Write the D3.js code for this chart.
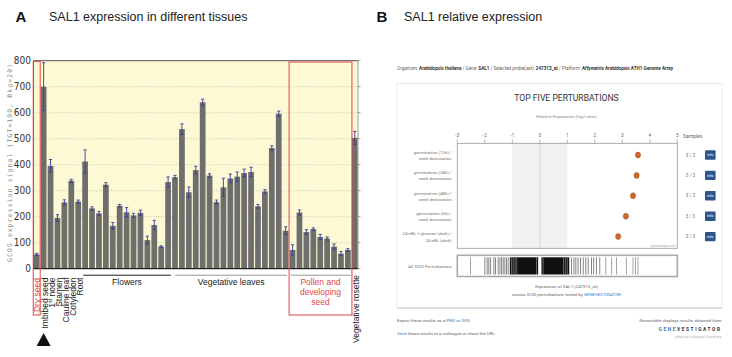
<!DOCTYPE html>
<html><head><meta charset="utf-8">
<script src="https://cdn.jsdelivr.net/npm/d3@7"></script>
<style>
html,body{margin:0;padding:0;background:#fff;}
svg{display:block;font-family:"Liberation Sans",Arial,sans-serif;}
</style></head>
<body>
<script>
// ---------- Panel A data ----------
const categories = ["Dry seed","Imbibed seed","1st node","Stamen","Cauline leaf","Cotyledon","Root",
  "Flower 1","Flower 2","Flower 3","Flower 4","Flower 5","Flower 6","Flower 7","Flower 8","Flower 9","Flower 10","Flower 11","Flower 12","Flower 13",
  "Leaf 1","Leaf 2","Leaf 3","Leaf 4","Leaf 5","Leaf 6","Leaf 7","Leaf 8","Leaf 9","Leaf 10","Leaf 11","Leaf 12","Leaf 13","Leaf 14","Leaf 15","Leaf 16","Leaf 17",
  "Pollen/seed 1","Pollen/seed 2","Pollen/seed 3","Pollen/seed 4","Pollen/seed 5","Pollen/seed 6","Pollen/seed 7","Pollen/seed 8","Pollen/seed 9",
  "Vegetative rosette"];
const signal = [55,700,395,195,255,338,258,412,232,213,323,165,242,217,205,215,110,168,85,333,352,537,294,379,640,358,256,313,347,354,368,372,240,297,464,596,146,72,216,141,152,122,116,85,58,72,503];
const signalErr = [4,92,25,13,10,6,6,45,6,7,8,13,5,18,8,10,15,18,3,20,7,20,20,15,12,7,8,35,17,18,15,18,7,7,9,10,15,20,10,9,5,10,6,10,8,5,25];
const yTicks = [0,100,200,300,400,500,600,700,800];
const rotatedLabels = ["Imbibed seed","1st node","Stamen","Cauline leaf","Cotyledon","Root"]; // bars 2..7
const groups = [
  {name:"Flowers", first:"Flower 1", last:"Flower 13", color:"#222"},
  {name:"Vegetative leaves", first:"Leaf 1", last:"Leaf 17", color:"#999"},
  {name:"Pollen and developing seed", first:"Pollen/seed 1", last:"Pollen/seed 9", color:"#999"}
];
const pollenLines = ["Pollen and","developing","seed"];

// ---------- Panel B data ----------
const perturbations = [
  ["germination (12h) /","seed desiccation"],
  ["germination (24h) /","seed desiccation"],
  ["germination (48h) /","seed desiccation"],
  ["germination (6h) /","seed desiccation"],
  ["24-eBL + glucose (dark) /","24-eBL (dark)"]
];
const log2Ratio = [3.57,3.52,3.39,3.13,2.85];
const samples = ["3 / 3","3 / 3","3 / 3","3 / 3","3 / 3"];
const xTicksB = [-3,-2,-1,0,1,2,3,4,5];
const barcodeLines = [-2.52,-2.0,-1.915,-1.855,-1.79,-1.67,-1.61,-1.515,-1.45,-1.39,-1.33,-1.27,-1.21,-1.15,
  1.15,1.24,1.31,1.39,1.48,1.58,1.67,1.76,1.88,1.96,2.06,2.18,2.4,2.61,2.79,3.15,3.39,3.48,3.57];
const barcodeDense = [[-1.09,-0.06],[0.06,1.07]];
const barcodeGaps = [-1.03,-0.97,-0.9,-0.84,-0.12,0.12,0.86,0.93,1.0];

const W=732,H=357;
const svg=d3.select("body").append("svg").attr("width",W).attr("height",H);

// ---------- Titles ----------
svg.append("text").attr("x",15.5).attr("y",22).attr("font-size",15).attr("font-weight","bold").attr("fill","#111").text("A");
svg.append("text").attr("x",49).attr("y",21).attr("font-size",12.5).attr("fill","#222").text("SAL1 expression in different tissues");
svg.append("text").attr("x",376.5).attr("y",22).attr("font-size",15).attr("font-weight","bold").attr("fill","#111").text("B");
svg.append("text").attr("x",404).attr("y",21).attr("font-size",12.5).attr("fill","#222").text("SAL1 relative expression");

// ---------- Panel A ----------
const pl=33.5, pr=358, pt=60.7, pb=268.7;
const x=d3.scaleBand().domain(categories).range([pl,pr]).paddingInner(0.17).paddingOuter(0.05);
const y=d3.scaleLinear().domain([0,800]).range([pb,pt]);
const A=svg.append("g");
A.append("rect").attr("x",pl).attr("y",pt).attr("width",pr-pl).attr("height",pb-pt).attr("fill","#fcf9d4");
A.append("g").selectAll("line").data(yTicks.slice(1,-1)).join("line")
  .attr("x1",pl).attr("x2",pr).attr("y1",d=>y(d)).attr("y2",d=>y(d))
  .attr("stroke","#b9b7a0").attr("stroke-width",0.7).attr("stroke-dasharray","1,1.5");
A.append("g").selectAll("rect").data(signal).join("rect")
  .attr("x",(d,i)=>x(categories[i])).attr("width",x.bandwidth())
  .attr("y",d=>y(d)).attr("height",d=>pb-y(d)).attr("fill","#6e6e6c");
const eb=A.append("g").attr("stroke","#3b3b98").attr("stroke-width",0.9);
signal.forEach((v,i)=>{
  const cx=x(categories[i])+x.bandwidth()/2, e=signalErr[i];
  const top=Math.min(800,v+e);
  eb.append("line").attr("x1",cx).attr("x2",cx).attr("y1",y(top)).attr("y2",y(v-e));
  eb.append("line").attr("x1",cx-1.6).attr("x2",cx+1.6).attr("y1",y(top)).attr("y2",y(top));
  eb.append("line").attr("x1",cx-1.6).attr("x2",cx+1.6).attr("y1",y(v-e)).attr("y2",y(v-e));
});
// frame
A.append("line").attr("x1",pl).attr("x2",pr).attr("y1",pt).attr("y2",pt).attr("stroke","#555").attr("stroke-width",1);
A.append("line").attr("x1",pr).attr("x2",pr).attr("y1",pt).attr("y2",pb).attr("stroke","#888").attr("stroke-width",0.8);
A.append("line").attr("x1",pl).attr("x2",pl).attr("y1",pt).attr("y2",pb).attr("stroke","#444").attr("stroke-width",1);
A.append("line").attr("x1",pl).attr("x2",pr).attr("y1",pb).attr("y2",pb).attr("stroke","#222").attr("stroke-width",1.2);
// right ticks
A.append("g").selectAll("line").data(yTicks).join("line")
  .attr("x1",pr).attr("x2",pr+2.5).attr("y1",d=>y(d)).attr("y2",d=>y(d)).attr("stroke","#777").attr("stroke-width",0.7);
// left tick labels
A.append("g").selectAll("text").data(yTicks).join("text")
  .attr("x",31).attr("y",d=>y(d)+3.5).attr("text-anchor","end")
  .attr("font-family","'Liberation Sans Narrow','DejaVu Sans Condensed',sans-serif")
  .attr("font-size",10).attr("fill","#333").text(d=>d);
// y title
A.append("text").attr("transform","translate(12.3,163) rotate(-90)").attr("text-anchor","middle")
  .attr("font-family","'DejaVu Sans Mono',monospace").attr("font-size",6.4).attr("fill","#888")
  .attr("textLength",198).attr("lengthAdjust","spacing")
  .text("GCOS expression signal (TGT=100, Bkg=20)");

// red box dry seed
const xd=x(categories[0]);
A.append("rect").attr("x",xd-0.6).attr("y",pt+0.6).attr("width",x.bandwidth()+1.2).attr("height",315-pt-0.6)
  .attr("fill","none").attr("stroke","#e0474c").attr("stroke-width",1);
A.append("text").attr("transform",`translate(${xd+x.bandwidth()/2+3.2},278) rotate(-90)`).attr("text-anchor","end")
  .attr("font-size",8.5).attr("fill","#e0474c").text("Dry seed");
// rotated labels
rotatedLabels.forEach((lab,k)=>{
  const c=x(categories[k+1])+x.bandwidth()/2+4.3;
  const t=A.append("text").attr("transform",`translate(${c},277.5) rotate(-90)`).attr("text-anchor","end")
    .attr("font-size",8.5).attr("fill","#222");
  if(lab==="1st node"){
    t.append("tspan").text("1");
    t.append("tspan").attr("font-size",5.5).attr("dy",-3).text("st");
    t.append("tspan").attr("dy",3).text(" node");
  } else t.text(lab);
});
{
  const last=categories[categories.length-1];
  A.append("text").attr("transform",`translate(${x(last)+x.bandwidth()/2+4.3},275) rotate(-90)`).attr("text-anchor","end")
    .attr("font-size",8.5).attr("fill","#222").text(last);
}
// group lines
groups.forEach((g,k)=>{
  const a=x(g.first)+(k===1?3:0.8), b=x(g.last)+x.bandwidth()+(k===1?-1.5:0);
  A.append("line").attr("x1",a).attr("x2",b).attr("y1",275.2).attr("y2",275.2).attr("stroke",g.color).attr("stroke-width",1);
  if(k<2) A.append("text").attr("x",(a+b)/2).attr("y",285).attr("text-anchor","middle").attr("font-size",8.5).attr("fill","#222").text(g.name);
});
// pollen box
{
  const a=x(groups[2].first)-0.6, b=x(groups[2].last)+x.bandwidth()+1.2;
  A.append("rect").attr("x",a).attr("y",62).attr("width",b-a).attr("height",315-62).attr("fill","none").attr("stroke","#e0474c").attr("stroke-width",1);
  A.append("g").selectAll("text").data(pollenLines).join("text")
    .attr("x",(a+b)/2).attr("y",(d,i)=>284.5+i*10).attr("text-anchor","middle").attr("font-size",8.5).attr("fill","#e0474c").text(d=>d);
}
// triangle
{
  const c=x(categories[1])+x.bandwidth()/2;
  A.append("path").attr("d",`M${c-7},346 L${c},333 L${c+7},346 Z`).attr("fill","#111");
}

// ---------- Panel B ----------
const B=svg.append("g").attr("font-family","Roboto,'Liberation Sans',sans-serif");
const bl=457.3, br=677.3, bt=143.3, bb=248.3;
const xb=d3.scaleLinear().domain([-3,5]).range([bl,br]);
const yb=d3.scaleBand().domain(d3.range(perturbations.length)).range([bt+0.5,bb-0.5]).paddingOuter(0.05);

{
  const t=B.append("text").attr("x",397).attr("y",69.5).attr("font-size",4.6).attr("fill","#555");
  [["Organism: ",0],["Arabidopsis thaliana",1],[" / Gene: ",0],["SAL1",1],[" / Selected probe(set): ",0],["247313_at",1],[" / Platform: ",0],["Affymetrix Arabidopsis ATH1 Genome Array",1]]
    .forEach(([s,b])=>t.append("tspan").attr("font-weight",b?"bold":"normal").attr("fill",b?"#333":"#666").text(s));
}
B.append("rect").attr("x",397).attr("y",84.5).attr("width",325).attr("height",224.5).attr("fill","#d8d8d8");
B.append("rect").attr("x",397).attr("y",83.5).attr("width",325).attr("height",224).attr("fill","#fff").attr("stroke","#e2e2e2").attr("stroke-width",0.7);
B.append("text").attr("x",566.5).attr("y",101).attr("text-anchor","middle").attr("font-size",8.6).attr("fill","#333").text("TOP FIVE PERTURBATIONS");
B.append("text").attr("x",566.5).attr("y",117.5).attr("text-anchor","middle").attr("font-size",4.4).attr("fill","#888").text("Relative Expression (log2-ratio)");
// axis
B.append("rect").attr("x",xb(-1)).attr("y",bt).attr("width",xb(1)-xb(-1)).attr("height",bb-bt).attr("fill","#f1f1f1");
B.append("line").attr("x1",xb(0)).attr("x2",xb(0)).attr("y1",bt).attr("y2",bb).attr("stroke","#777").attr("stroke-width",0.5).attr("stroke-dasharray","1,1");
B.append("rect").attr("x",bl).attr("y",bt).attr("width",br-bl).attr("height",bb-bt).attr("fill","none").attr("stroke","#999").attr("stroke-width",0.8);
B.append("g").selectAll("line").data(xTicksB).join("line").attr("x1",d=>xb(d)).attr("x2",d=>xb(d)).attr("y1",bt-4).attr("y2",bt).attr("stroke","#777").attr("stroke-width",0.5);
B.append("g").selectAll("text").data(xTicksB).join("text").attr("x",d=>xb(d)).attr("y",137).attr("text-anchor","middle").attr("font-size",4.6).attr("fill","#666").text(d=>d);
B.append("text").attr("x",683).attr("y",137.5).attr("font-size",5).attr("fill","#666").text("Samples");
// rows
perturbations.forEach((p,i)=>{
  const cy=yb(i)+yb.bandwidth()/2;
  B.append("text").attr("x",451.7).attr("y",cy-1.2).attr("text-anchor","end").attr("font-size",4.4).attr("fill","#777").text(p[0]);
  B.append("text").attr("x",451.7).attr("y",cy+5).attr("text-anchor","end").attr("font-size",4.4).attr("fill","#777").text(p[1]);
  B.append("ellipse").attr("cx",xb(log2Ratio[i])).attr("cy",cy).attr("rx",2.6).attr("ry",3).attr("fill","#d0682c").attr("stroke","#8a4015").attr("stroke-width",0.4);
  B.append("text").attr("x",690.5).attr("y",cy+1.6).attr("text-anchor","middle").attr("font-size",4.6).attr("fill","#777").text(samples[i]);
  B.append("rect").attr("x",705).attr("y",cy-4.7).attr("width",10.6).attr("height",9.4).attr("rx",1).attr("fill","#2c5590");
  B.append("text").attr("x",710.3).attr("y",cy+1.3).attr("text-anchor","middle").attr("font-size",3.8).attr("fill","#fff").text("info");
});
B.append("text").attr("x",675.5).attr("y",246.5).attr("text-anchor","end").attr("font-size",2.8).attr("fill","#aaa").text("genevestigator.com");
// barcode
const ct=255.3, cb=276.5;
B.append("rect").attr("x",bl).attr("y",ct).attr("width",br-bl).attr("height",cb-ct).attr("fill","#fff").attr("stroke","#aaa").attr("stroke-width",1.6);
B.append("g").selectAll("rect").data(barcodeDense).join("rect").attr("x",d=>xb(d[0])).attr("width",d=>xb(d[1])-xb(d[0]))
  .attr("y",ct+2).attr("height",cb-ct-4).attr("fill","#111");
B.append("g").selectAll("line").data(barcodeGaps).join("line").attr("x1",d=>xb(d)).attr("x2",d=>xb(d)).attr("y1",ct+2).attr("y2",cb-2)
  .attr("stroke","#bbb").attr("stroke-width",0.5);
B.append("g").selectAll("line").data(barcodeLines).join("line").attr("x1",d=>xb(d)).attr("x2",d=>xb(d)).attr("y1",ct+2).attr("y2",cb-2)
  .attr("stroke",d=>Math.abs(d)>2.2?"#666":"#333").attr("stroke-width",0.6);
B.append("text").attr("x",451.7).attr("y",267.5).attr("text-anchor","end").attr("font-size",4.4).attr("fill","#777").text("All 3250 Perturbations");
B.append("text").attr("x",566.5).attr("y",287.5).attr("text-anchor","middle").attr("font-size",4.4).attr("fill","#666").text("Expression of SAL1 (247313_at)");
{
  const t=B.append("text").attr("x",566.5).attr("y",296).attr("text-anchor","middle").attr("font-size",4.4).attr("fill","#666");
  t.append("tspan").text("across 3250 perturbations tested by ");
  t.append("tspan").attr("fill","#3a7ac0").text("GENEVESTIGATOR");
}
{
  const t=B.append("text").attr("x",397).attr("y",322).attr("font-size",4.4).attr("fill","#666");
  t.append("tspan").text("Export these results as a ");
  t.append("tspan").attr("fill","#3a7ac0").text("PNG");
  t.append("tspan").text(" or ");
  t.append("tspan").attr("fill","#3a7ac0").text("SVG");
  t.append("tspan").text(".");
  const s=B.append("text").attr("x",397).attr("y",334.5).attr("font-size",4.4).attr("fill","#666");
  s.append("tspan").attr("fill","#3a7ac0").text("Send");
  s.append("tspan").text(" these results to a colleague or share the URL.");
}
B.append("text").attr("x",721.7).attr("y",322).attr("text-anchor","end").attr("font-size",4.4).attr("fill","#666").text("Genevisible displays results obtained from");
{
  const t=B.append("text").attr("x",721.7).attr("y",331).attr("text-anchor","end").attr("font-size",4.8).attr("font-weight","bold").attr("letter-spacing",1.6);
  t.append("tspan").attr("fill","#3a7ac0").text("GENE");
  t.append("tspan").attr("fill","#333").text("VESTIGATOR");
  B.append("text").attr("x",721.7).attr("y",338).attr("text-anchor","end").attr("font-size",2.8).attr("letter-spacing",0.4).attr("fill","#999").text("shaping biological discovery");
}
</script>
</body></html>
